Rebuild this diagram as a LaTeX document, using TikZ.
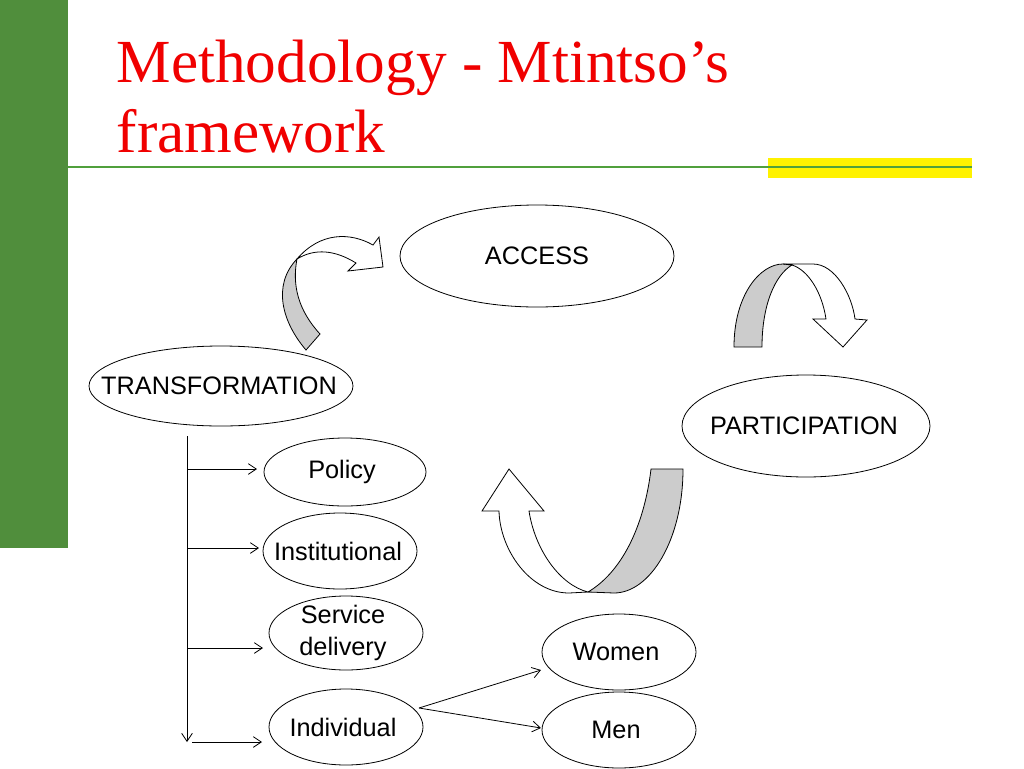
\documentclass[tikz,border=0pt]{standalone}
\usepackage{fontspec}
\setmainfont{Liberation Serif}
\newfontfamily\arialfont{Liberation Sans}
\usetikzlibrary{arrows.meta,shapes.geometric}
\definecolor{barGreen}{RGB}{80,142,60}
\definecolor{lineGreen}{RGB}{80,160,60}
\definecolor{titleRed}{RGB}{240,0,0}
\begin{document}
\begin{tikzpicture}[x=0.0264cm,y=-0.0264cm,
    oval/.style={inner sep=0pt,font=\arialfont\fontsize{19}{22}\selectfont,align=center},
    branch/.style={-{Straight Barb[length=6pt,width=8pt]},line width=0.6pt},
    band/.style={line width=0.6pt}]
    \useasboundingbox (0,0) rectangle (1024,768);
    % 背景
    \fill[barGreen] (0,0) rectangle (68,548);
    \fill[yellow] (768,158) rectangle (972,178);
    \draw[lineGreen,line width=1.2pt] (68,167) -- (972,167);
    \node[anchor=base west,text=titleRed,font=\fontsize{46}{52}\selectfont] (title) at (112,82) {Methodology - Mtintso's};
    \node[anchor=base west,text=titleRed,font=\fontsize{46}{52}\selectfont] (title2) at (112,152) {framework};
    % 椭圆
    \node[oval] (access) at (537,256) {ACCESS};
    \node[oval] (trans) at (219,386) {TRANSFORMATION};
    \node[oval] (part) at (804,426) {PARTICIPATION};
    \node[oval] (policy) at (342,472) {Policy};
    \node[oval] (inst) at (338,551) {Institutional};
    \node[oval] (service) at (343,633) {Service\\[2pt]delivery};
    \node[oval] (indiv) at (343,727) {Individual};
    \node[oval] (women) at (616,652) {Women};
    \node[oval] (men) at (616,730) {Men};
    \foreach \n/\cx/\cy/\rx/\ry in {access/537/256/137/51, trans/221/386/132/40, part/806/426/124/51,
        policy/345/472/81/34, inst/340/551/77/38, service/346/633/77/37, indiv/346/727/77/38,
        women/619/652/77/38, men/619/730/77/38}
      \draw[line width=0.6pt] (\cx,\cy) ellipse [x radius=\rx, y radius=\ry];
    % 分支
    \coordinate (top) at (187,436);
    \coordinate (bottom) at (187,742);
    \coordinate (fork) at (419,708);
    \draw[branch] (top) -- (bottom);
    \draw[branch] (187,469) -- (257,469);
    \draw[branch] (187,548) -- (259,548);
    \draw[branch] (187,648) -- (263,648);
    \draw[branch] (192,742) -- (262,742);
    \draw[branch] (fork) -- (541,670);
    \draw[branch] (fork) -- (541,728);
    % 弯箭头
    \filldraw[band,fill=gray!40] (306,350) .. controls (282,322) and (272,285) .. (297,259) .. controls (292,285) and (298,310) .. (320,334) -- cycle;
    \filldraw[band,fill=white] (297,259) .. controls (320,232) and (350,232) .. (373,245) -- (379,237) -- (383,267) -- (348,271) -- (356,263) .. controls (335,250) and (315,248) .. (297,259) -- cycle;
    \filldraw[band,fill=gray!40] (734,347) .. controls (734,295) and (760,264) .. (783,264) -- (792,265) .. controls (775,275) and (762,305) .. (762,347) -- cycle;
    \filldraw[band,fill=white] (783,264) -- (813,264) .. controls (835,264) and (852,295) .. (855,319) -- (867,320) -- (843,347) -- (813,319) -- (826,319) .. controls (822,292) and (808,270) .. (792,265) -- cycle;
    \filldraw[band,fill=gray!40] (651,469) -- (683,469) .. controls (683,540) and (650,593) .. (614,593) -- (588,592) .. controls (625,570) and (645,520) .. (651,469) -- cycle;
    \filldraw[band,fill=white] (588,592) -- (569,593) .. controls (530,593) and (500,550) .. (499,511) -- (482,511) -- (509,469) -- (544,511) -- (529,511) .. controls (535,550) and (560,585) .. (588,592) -- cycle;
\end{tikzpicture}
\end{document}
